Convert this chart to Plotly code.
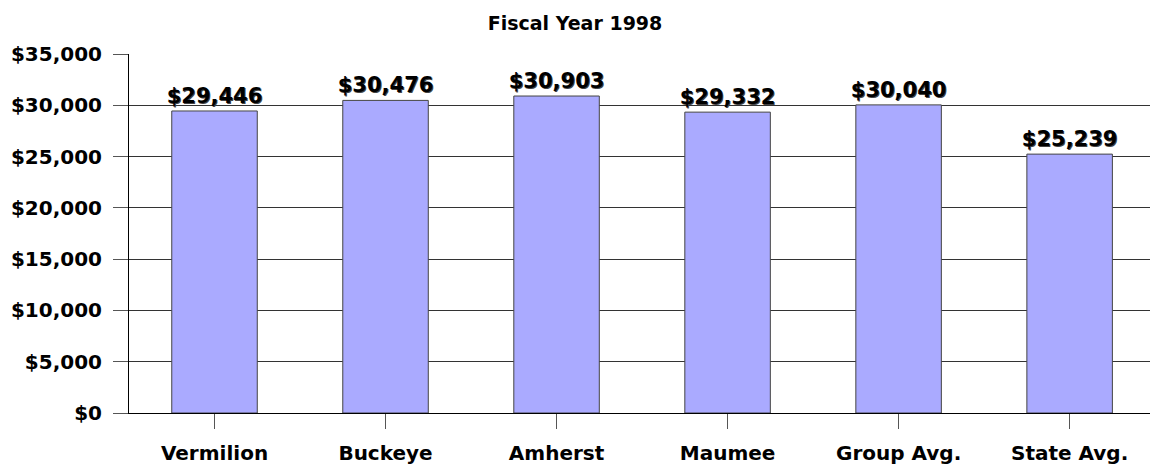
import plotly.graph_objects as go

categories = ["Vermilion", "Buckeye", "Amherst", "Maumee", "Group Avg.", "State Avg."]
values = [29446, 30476, 30903, 29332, 30040, 25239]
labels = ["$29,446", "$30,476", "$30,903", "$29,332", "$30,040", "$25,239"]
tick_vals = [0, 5000, 10000, 15000, 20000, 25000, 30000, 35000]
tick_text = ["$0", "$5,000", "$10,000", "$15,000", "$20,000", "$25,000", "$30,000", "$35,000"]

FONT = "DejaVu Sans, Liberation Sans, Arial"

fig = go.Figure()
fig.add_trace(go.Bar(
    x=list(range(len(categories))),
    y=values,
    text=labels,
    textposition="outside",
    constraintext="none",
    cliponaxis=False,
    textfont=dict(family=FONT, size=21, color="#000000",
                  weight="bold", shadow="1px 1px 0px #444"),
    marker=dict(color="#AAAAFF", line=dict(color="#444444", width=1)),
    width=0.5,
))

fig.update_layout(
    width=1150, height=469,
    margin=dict(l=129, r=0, t=54, b=56),
    paper_bgcolor="white", plot_bgcolor="white",
    showlegend=False,
    title=dict(text="Fiscal Year 1998", x=0.5, xanchor="center", y=0.951, yanchor="middle",
               font=dict(family=FONT, size=19, color="#000000", weight="bold")),
    font=dict(family=FONT, color="#000000"),
)
fig.update_xaxes(
    range=[-0.5, 5.47],
    tickvals=list(range(len(categories))),
    ticktext=categories,
    ticks="outside", ticklen=15, tickcolor="#555555",
    tickfont=dict(family=FONT, size=20, weight="bold"),
    ticklabelstandoff=7,
    showgrid=False, showline=True, linecolor="#000000", linewidth=1,
    zeroline=False,
)
fig.update_yaxes(
    range=[0, 35000],
    tickvals=tick_vals, ticktext=tick_text,
    ticks="outside", ticklen=15, tickcolor="#555555",
    tickfont=dict(family=FONT, size=20, weight="bold"),
    ticklabelstandoff=7,
    showgrid=True, gridcolor="#333333", gridwidth=1,
    showline=True, linecolor="#000000", linewidth=1,
    zeroline=False,
)

fig.write_html("out.html")
